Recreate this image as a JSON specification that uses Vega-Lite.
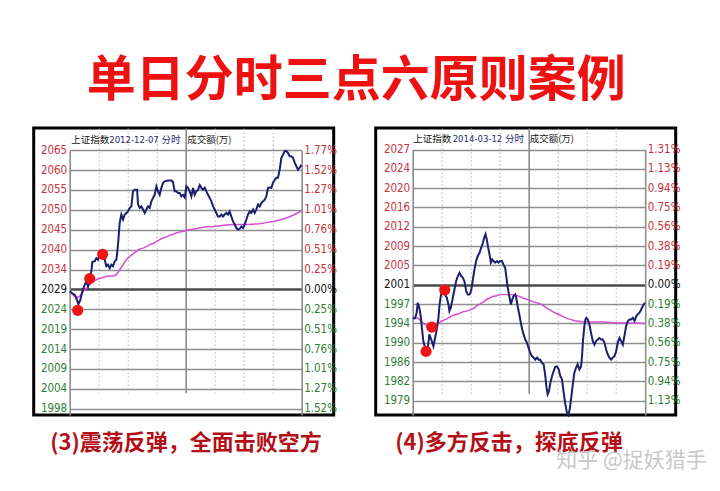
{
  "$schema": "https://vega.github.io/schema/vega-lite/v6.json",
  "background": "white",
  "padding": {"left": 31.7, "top": 56, "right": 0, "bottom": 0},
  "title": {"text": "单日分时三点六原则案例", "orient": "top", "anchor": "middle", "offset": -18, "dx": -14, "baseline": "alphabetic", "font": "Noto Sans CJK SC", "fontSize": 49, "fontWeight": "bold", "color": "#ee1111"},
  "datasets": {
    "p1price": [
      {"t":0,"p":2028.8},{"t":2.8,"p":2028.3},{"t":5.2,"p":2027.9},{"t":6.9,"p":2026.9},{"t":9.0,"p":2025.5},{"t":11.0,"p":2026.6},{"t":13.1,"p":2028.8},{"t":15.5,"p":2030.5},{"t":17.2,"p":2031.4},{"t":19.0,"p":2030.1},{"t":20.7,"p":2032.2},{"t":22.4,"p":2034.0},{"t":23.4,"p":2036.4},{"t":25.9,"p":2036.6},{"t":27.6,"p":2037.4},{"t":29.3,"p":2037.0},{"t":31.0,"p":2038.3},{"t":33.8,"p":2037.9},{"t":36.2,"p":2037.0},{"t":37.9,"p":2035.3},{"t":39.7,"p":2035.7},{"t":41.4,"p":2034.8},{"t":43.1,"p":2035.7},{"t":44.8,"p":2035.3},{"t":46.6,"p":2036.6},{"t":48.3,"p":2037.0},{"t":50.0,"p":2040.9},{"t":51.7,"p":2046.5},{"t":53.4,"p":2048.7},{"t":55.2,"p":2047.4},{"t":56.9,"p":2048.7},{"t":58.6,"p":2049.1},{"t":60.3,"p":2049.5},{"t":62.1,"p":2050.4},{"t":63.8,"p":2050.8},{"t":65.5,"p":2054.7},{"t":67.2,"p":2055.1},{"t":69.7,"p":2055.1},{"t":70.7,"p":2051.3},{"t":72.4,"p":2050.4},{"t":74.1,"p":2050.8},{"t":75.9,"p":2050.0},{"t":77.6,"p":2049.1},{"t":79.3,"p":2050.0},{"t":81.0,"p":2050.8},{"t":82.8,"p":2050.4},{"t":84.5,"p":2052.1},{"t":86.2,"p":2053.0},{"t":87.9,"p":2053.8},{"t":89.7,"p":2056.0},{"t":91.4,"p":2054.7},{"t":93.1,"p":2053.8},{"t":94.8,"p":2055.6},{"t":96.6,"p":2056.9},{"t":98.3,"p":2057.3},{"t":101.7,"p":2057.5},{"t":105.2,"p":2057.5},{"t":106.9,"p":2057.1},{"t":108.6,"p":2054.7},{"t":110.3,"p":2054.7},{"t":112.1,"p":2054.3},{"t":113.8,"p":2054.3},{"t":115.5,"p":2053.4},{"t":117.2,"p":2053.8},{"t":119.0,"p":2053.1},{"t":120.7,"p":2056.0},{"t":122.4,"p":2055.6},{"t":124.1,"p":2054.7},{"t":125.9,"p":2053.4},{"t":127.6,"p":2055.6},{"t":129.3,"p":2053.8},{"t":131.0,"p":2054.7},{"t":132.8,"p":2055.1},{"t":134.5,"p":2056.3},{"t":136.2,"p":2055.6},{"t":137.9,"p":2055.1},{"t":139.7,"p":2055.6},{"t":141.4,"p":2054.7},{"t":143.1,"p":2053.8},{"t":144.8,"p":2053.0},{"t":146.6,"p":2052.1},{"t":148.3,"p":2050.8},{"t":150.0,"p":2050.0},{"t":151.7,"p":2049.1},{"t":153.4,"p":2048.2},{"t":155.2,"p":2048.2},{"t":156.9,"p":2048.7},{"t":158.6,"p":2048.2},{"t":160.3,"p":2048.7},{"t":162.1,"p":2049.1},{"t":163.8,"p":2048.7},{"t":165.5,"p":2049.5},{"t":167.2,"p":2048.2},{"t":169.0,"p":2046.9},{"t":170.7,"p":2046.1},{"t":172.4,"p":2045.2},{"t":174.1,"p":2044.8},{"t":175.9,"p":2045.0},{"t":177.6,"p":2045.6},{"t":179.3,"p":2045.2},{"t":181.0,"p":2046.1},{"t":182.8,"p":2047.4},{"t":184.5,"p":2048.7},{"t":186.2,"p":2049.5},{"t":187.9,"p":2049.1},{"t":189.7,"p":2050.0},{"t":191.4,"p":2049.1},{"t":193.1,"p":2050.0},{"t":194.8,"p":2051.3},{"t":196.6,"p":2050.8},{"t":198.3,"p":2051.7},{"t":200.0,"p":2052.1},{"t":201.7,"p":2052.5},{"t":203.4,"p":2053.4},{"t":205.2,"p":2055.6},{"t":206.9,"p":2055.7},{"t":208.6,"p":2055.6},{"t":210.3,"p":2056.9},{"t":212.1,"p":2057.7},{"t":213.8,"p":2058.2},{"t":215.5,"p":2058.2},{"t":217.2,"p":2060.3},{"t":219.0,"p":2063.4},{"t":220.7,"p":2064.2},{"t":222.4,"p":2065.1},{"t":224.1,"p":2065.2},{"t":225.9,"p":2064.6},{"t":227.6,"p":2063.8},{"t":229.3,"p":2063.8},{"t":231.0,"p":2063.4},{"t":232.8,"p":2062.1},{"t":234.5,"p":2061.2},{"t":236.2,"p":2060.3},{"t":237.9,"p":2060.8},{"t":239.7,"p":2061.6}
    ],
    "p1avg": [
      {"t":0,"p":2028.8},{"t":3.4,"p":2027.9},{"t":7.6,"p":2027.2},{"t":10.3,"p":2027.5},{"t":13.8,"p":2028.8},{"t":17.2,"p":2029.6},{"t":20.7,"p":2030.5},{"t":24.1,"p":2031.4},{"t":27.6,"p":2031.8},{"t":31.0,"p":2032.2},{"t":34.5,"p":2032.4},{"t":37.9,"p":2032.7},{"t":41.4,"p":2032.8},{"t":44.8,"p":2032.8},{"t":48.3,"p":2033.1},{"t":51.7,"p":2034.4},{"t":55.2,"p":2035.7},{"t":58.6,"p":2037.0},{"t":62.1,"p":2037.9},{"t":65.5,"p":2038.5},{"t":69.0,"p":2039.2},{"t":72.4,"p":2039.8},{"t":75.9,"p":2040.0},{"t":79.3,"p":2040.4},{"t":82.8,"p":2040.9},{"t":86.2,"p":2041.2},{"t":89.7,"p":2041.7},{"t":93.1,"p":2042.2},{"t":96.6,"p":2042.6},{"t":100.0,"p":2042.9},{"t":103.4,"p":2043.3},{"t":106.9,"p":2043.6},{"t":110.3,"p":2043.9},{"t":113.8,"p":2044.2},{"t":117.2,"p":2044.3},{"t":120.7,"p":2044.6},{"t":127.6,"p":2044.9},{"t":134.5,"p":2045.2},{"t":141.4,"p":2045.5},{"t":148.3,"p":2045.6},{"t":155.2,"p":2045.8},{"t":162.1,"p":2046.0},{"t":169.0,"p":2046.1},{"t":175.9,"p":2046.1},{"t":182.8,"p":2046.1},{"t":189.7,"p":2046.2},{"t":196.6,"p":2046.3},{"t":203.4,"p":2046.6},{"t":210.3,"p":2046.9},{"t":217.2,"p":2047.3},{"t":224.1,"p":2047.8},{"t":231.0,"p":2048.5},{"t":239.7,"p":2049.6}
    ],
    "p1dots": [{"t":8.3,"p":2023.9},{"t":20.7,"p":2032.1},{"t":34.1,"p":2038.4}],
    "p2price": [
      {"t":0,"p":1994.7},{"t":2.4,"p":1994.7},{"t":4.1,"p":1995.8},{"t":5.2,"p":1997.7},{"t":6.9,"p":1996.7},{"t":8.3,"p":1995.1},{"t":9.7,"p":1992.5},{"t":11.0,"p":1990.3},{"t":12.8,"p":1989.0},{"t":13.8,"p":1988.2},{"t":15.2,"p":1988.3},{"t":16.2,"p":1990.0},{"t":17.2,"p":1991.6},{"t":18.6,"p":1990.9},{"t":19.7,"p":1990.3},{"t":21.4,"p":1989.3},{"t":23.1,"p":1990.9},{"t":24.8,"p":1992.5},{"t":26.6,"p":1994.8},{"t":27.6,"p":1997.1},{"t":29.0,"p":1999.0},{"t":30.3,"p":2000.0},{"t":31.7,"p":2000.4},{"t":33.4,"p":1999.3},{"t":35.2,"p":1998.7},{"t":36.9,"p":1997.4},{"t":37.9,"p":1996.1},{"t":39.3,"p":1996.7},{"t":41.4,"p":1998.7},{"t":43.1,"p":2000.3},{"t":44.8,"p":2001.9},{"t":46.6,"p":2002.9},{"t":48.3,"p":2003.5},{"t":50.0,"p":2002.9},{"t":51.7,"p":2002.6},{"t":53.4,"p":2001.9},{"t":55.2,"p":2000.0},{"t":56.9,"p":1999.3},{"t":58.6,"p":1999.3},{"t":60.3,"p":2000.0},{"t":62.1,"p":2002.2},{"t":63.8,"p":2004.2},{"t":65.5,"p":2005.8},{"t":67.2,"p":2006.8},{"t":69.0,"p":2007.4},{"t":70.7,"p":2008.4},{"t":72.4,"p":2009.3},{"t":73.8,"p":2010.3},{"t":75.2,"p":2011.0},{"t":76.5,"p":2010.0},{"t":77.9,"p":2008.4},{"t":79.3,"p":2007.1},{"t":80.7,"p":2005.5},{"t":82.1,"p":2006.1},{"t":83.4,"p":2005.8},{"t":85.2,"p":2005.5},{"t":86.9,"p":2005.8},{"t":88.6,"p":2005.5},{"t":90.3,"p":2005.8},{"t":92.1,"p":2005.8},{"t":93.8,"p":2005.1},{"t":95.5,"p":2004.5},{"t":96.6,"p":2002.9},{"t":97.9,"p":2000.9},{"t":99.7,"p":1999.0},{"t":101.4,"p":1997.4},{"t":102.8,"p":1998.4},{"t":104.1,"p":1999.0},{"t":105.9,"p":1999.3},{"t":106.9,"p":1998.7},{"t":108.3,"p":1997.1},{"t":110.0,"p":1995.5},{"t":111.7,"p":1993.8},{"t":113.1,"p":1992.5},{"t":114.5,"p":1991.6},{"t":116.2,"p":1990.6},{"t":117.9,"p":1990.0},{"t":119.6,"p":1989.0},{"t":121.4,"p":1988.0},{"t":123.1,"p":1987.4},{"t":124.8,"p":1987.1},{"t":126.5,"p":1986.7},{"t":128.3,"p":1987.1},{"t":130.0,"p":1986.7},{"t":131.7,"p":1986.7},{"t":133.4,"p":1986.1},{"t":135.2,"p":1985.8},{"t":136.9,"p":1983.5},{"t":137.9,"p":1981.6},{"t":139.3,"p":1980.0},{"t":140.7,"p":1980.6},{"t":142.1,"p":1982.2},{"t":143.8,"p":1983.5},{"t":145.5,"p":1984.5},{"t":147.2,"p":1985.3},{"t":149.0,"p":1985.4},{"t":150.7,"p":1984.8},{"t":152.4,"p":1983.5},{"t":154.1,"p":1982.9},{"t":155.9,"p":1980.3},{"t":157.6,"p":1978.0},{"t":159.3,"p":1976.4},{"t":160.7,"p":1976.0},{"t":162.1,"p":1977.1},{"t":163.8,"p":1979.6},{"t":165.5,"p":1982.2},{"t":166.9,"p":1984.2},{"t":168.6,"p":1985.1},{"t":170.3,"p":1985.8},{"t":172.1,"p":1984.8},{"t":173.8,"p":1985.4},{"t":174.8,"p":1987.4},{"t":175.9,"p":1990.6},{"t":177.2,"p":1993.2},{"t":178.3,"p":1994.5},{"t":179.3,"p":1994.8},{"t":180.7,"p":1994.5},{"t":182.4,"p":1993.5},{"t":184.1,"p":1991.9},{"t":185.9,"p":1990.3},{"t":187.6,"p":1989.6},{"t":189.3,"p":1990.3},{"t":191.0,"p":1990.6},{"t":192.7,"p":1990.9},{"t":194.5,"p":1990.6},{"t":196.2,"p":1990.6},{"t":197.9,"p":1990.0},{"t":199.6,"p":1988.7},{"t":201.4,"p":1987.7},{"t":203.1,"p":1987.1},{"t":204.8,"p":1986.7},{"t":206.5,"p":1987.1},{"t":208.3,"p":1987.4},{"t":210.0,"p":1988.3},{"t":211.7,"p":1990.0},{"t":213.4,"p":1990.9},{"t":215.2,"p":1990.3},{"t":216.9,"p":1989.6},{"t":218.6,"p":1991.3},{"t":220.3,"p":1993.2},{"t":222.1,"p":1994.2},{"t":223.8,"p":1994.5},{"t":225.5,"p":1994.5},{"t":227.2,"p":1994.8},{"t":229.0,"p":1994.2},{"t":230.7,"p":1995.1},{"t":232.4,"p":1995.5},{"t":234.1,"p":1995.8},{"t":235.9,"p":1996.4},{"t":237.6,"p":1997.1},{"t":239.7,"p":1997.7}
    ],
    "p2avg": [
      {"t":0,"p":1994.7},{"t":2.4,"p":1994.7},{"t":4.8,"p":1994.8},{"t":6.9,"p":1994.5},{"t":9.3,"p":1994.0},{"t":12.8,"p":1993.5},{"t":16.2,"p":1993.2},{"t":19.7,"p":1993.2},{"t":23.1,"p":1993.5},{"t":26.6,"p":1993.8},{"t":30.0,"p":1994.2},{"t":35.2,"p":1994.6},{"t":38.6,"p":1995.0},{"t":42.1,"p":1995.3},{"t":47.2,"p":1995.6},{"t":52.4,"p":1996.0},{"t":57.6,"p":1996.2},{"t":62.8,"p":1996.6},{"t":66.2,"p":1997.1},{"t":69.7,"p":1997.5},{"t":73.1,"p":1997.9},{"t":76.5,"p":1998.4},{"t":80.0,"p":1998.7},{"t":83.4,"p":1999.0},{"t":86.9,"p":1999.1},{"t":90.3,"p":1999.3},{"t":95.5,"p":1999.3},{"t":100.7,"p":1999.3},{"t":104.1,"p":1999.3},{"t":107.6,"p":1999.1},{"t":111.0,"p":1998.9},{"t":114.5,"p":1998.6},{"t":117.9,"p":1998.4},{"t":121.4,"p":1998.1},{"t":124.8,"p":1997.9},{"t":128.3,"p":1997.7},{"t":131.7,"p":1997.5},{"t":135.2,"p":1997.1},{"t":138.6,"p":1996.7},{"t":142.1,"p":1996.3},{"t":145.5,"p":1995.9},{"t":149.0,"p":1995.6},{"t":152.4,"p":1995.3},{"t":155.9,"p":1995.0},{"t":159.3,"p":1994.7},{"t":162.8,"p":1994.5},{"t":166.2,"p":1994.3},{"t":169.7,"p":1994.2},{"t":173.1,"p":1994.1},{"t":176.6,"p":1994.0},{"t":183.4,"p":1994.0},{"t":190.3,"p":1994.0},{"t":197.2,"p":1994.0},{"t":204.1,"p":1993.9},{"t":211.0,"p":1993.8},{"t":217.9,"p":1993.8},{"t":224.8,"p":1993.8},{"t":231.7,"p":1993.8},{"t":239.7,"p":1993.7}
    ],
    "p2dots": [{"t":13.8,"p":1988.3},{"t":19.7,"p":1993.0},{"t":33.1,"p":2000.2}]
  },
  "config": {
    "axis": {"labelFont": "Liberation Sans Narrow, DejaVu Sans Condensed, sans-serif", "labelFontSize": 11.5, "labelFlush": false, "labelOverlap": false, "ticks": false, "domainColor": "#8c8c8c", "domainWidth": 1.6, "titleFont": "Noto Sans CJK SC", "titleFontWeight": "normal", "titleFontSize": 9.5, "titleAngle": 0, "titleAlign": "left", "titleBaseline": "middle"}
  },
  "bounds": "flush",
  "spacing": 42,
  "hconcat": [
    {
      "width": 300, "height": 287,
      "view": {"stroke": "#000000", "strokeWidth": 3},
      "layer": [
        {
          "data": {"name": "p1avg"},
          "mark": {"type": "line", "color": "#d54ed5", "strokeWidth": 1.5},
          "encoding": {
            "x": {"field": "t", "type": "quantitative", "scale": {"domain": [0, 240], "range": [36, 268], "nice": false, "zero": false},
              "axis": {"orient": "bottom", "values": [30, 60, 90, 120, 150, 180, 210], "labels": false, "ticks": false, "domain": false, "grid": true,
                "gridColor": {"condition": {"test": "datum.value === 120", "value": "#8c8c8c"}, "value": "#b0b0b0"},
                "gridDash": {"condition": {"test": "datum.value === 120", "value": []}, "value": [1.5, 2.5]},
                "gridWidth": {"condition": {"test": "datum.value === 120", "value": 1.6}, "value": 1},
                "title": "(3)震荡反弹，全面击败空方", "titleX": 16, "titleY": 28, "titleFontSize": 22, "titleFontWeight": "bold", "titleColor": "#b40f16"}},
            "y": {"field": "p", "type": "quantitative", "scale": {"domain": [1996.79, 2065.35], "range": [287, 22.2], "nice": false, "zero": false},
              "axis": {"orient": "left", "offset": -36, "values": [1998.4, 2003.55, 2008.7, 2013.85, 2019, 2024.15, 2029.3, 2034.45, 2039.6, 2044.75, 2049.9, 2055.05, 2060.2, 2065.35],
                "labelExpr": "format(round(datum.value),'d')", "labelPadding": 3,
                "labelColor": {"condition": [{"test": "datum.value > 2030", "value": "#c8323c"}, {"test": "datum.value < 2028", "value": "#2e7d32"}], "value": "#111111"},
                "grid": true,
                "gridColor": {"condition": {"test": "datum.value === 2029.3", "value": "#4a4a4a"}, "value": "#8e8e8e"},
                "gridWidth": {"condition": {"test": "datum.value === 2029.3", "value": 2.6}, "value": 1.7},
                "title": "上证指数", "titleX": 1, "titleY": 11, "titleColor": "#111111"}}
          }
        },
        {
          "data": {"name": "p1price"},
          "mark": {"type": "line", "color": "#1b1f6e", "strokeWidth": 2},
          "encoding": {
            "x": {"field": "t", "type": "quantitative", "scale": {"domain": [0, 240], "range": [36, 268], "nice": false, "zero": false}, "axis": null},
            "y": {"field": "p", "type": "quantitative", "scale": {"domain": [1996.79, 2065.35], "range": [287, 22.2], "nice": false, "zero": false}, "axis": null}
          }
        },
        {
          "data": {"name": "p1dots"},
          "mark": {"type": "circle", "color": "#f01414", "opacity": 1, "size": 125},
          "encoding": {
            "x": {"field": "t", "type": "quantitative", "scale": {"domain": [0, 240], "range": [36, 268], "nice": false, "zero": false},
              "axis": {"orient": "top", "labels": false, "ticks": false, "domain": false, "grid": false,
                "title": "2012-12-07 分时", "titleX": 75, "titleY": 11, "titleFont": "DejaVu Sans Condensed, Noto Sans CJK SC", "titleFontSize": 9.5, "titleColor": "#1d2b6b"}},
            "y": {"field": "p", "type": "quantitative", "scale": {"domain": [1996.79, 2065.35], "range": [287, 22.2], "nice": false, "zero": false},
              "axis": {"orient": "right", "offset": -32, "values": [1998.4, 2003.55, 2008.7, 2013.85, 2019, 2024.15, 2029.3, 2034.45, 2039.6, 2044.75, 2049.9, 2055.05, 2060.2, 2065.35],
                "labelExpr": "format(abs(round((datum.value-2029.3)/5.15))*0.2533,'.2f')+'%'", "labelPadding": 2,
                "labelColor": {"condition": [{"test": "datum.value > 2030", "value": "#c8323c"}, {"test": "datum.value < 2028", "value": "#2e7d32"}], "value": "#111111"},
                "grid": false,
                "title": "成交额(万)", "titleX": -115, "titleY": 11, "titleColor": "#222222"}}
          }
        }
      ],
      "resolve": {"scale": {"x": "independent", "y": "independent"}, "axis": {"x": "independent", "y": "independent"}}
    },
    {
      "width": 300, "height": 287,
      "view": {"stroke": "#000000", "strokeWidth": 3},
      "title": {"text": "知乎 @捉妖猎手", "orient": "bottom", "anchor": "end", "frame": "group", "offset": 7, "baseline": "middle", "dx": 31, "font": "Noto Sans CJK SC", "fontSize": 21, "fontWeight": "normal", "color": "#c8c8c8"},
      "layer": [
        {
          "data": {"name": "p2avg"},
          "mark": {"type": "line", "color": "#d54ed5", "strokeWidth": 1.5},
          "encoding": {
            "x": {"field": "t", "type": "quantitative", "scale": {"domain": [0, 240], "range": [37, 269.5], "nice": false, "zero": false},
              "axis": {"orient": "bottom", "values": [30, 60, 90, 120, 150, 180, 210], "labels": false, "ticks": false, "domain": false, "grid": true,
                "gridColor": {"condition": {"test": "datum.value === 120", "value": "#8c8c8c"}, "value": "#b0b0b0"},
                "gridDash": {"condition": {"test": "datum.value === 120", "value": []}, "value": [1.5, 2.5]},
                "gridWidth": {"condition": {"test": "datum.value === 120", "value": 1.6}, "value": 1},
                "title": "(4)多方反击，探底反弹", "titleX": 19, "titleY": 28, "titleFontSize": 22, "titleFontWeight": "bold", "titleColor": "#b40f16"}},
            "y": {"field": "p", "type": "quantitative", "scale": {"domain": [1975.98, 2027.415], "range": [287, 21.5], "nice": false, "zero": false},
              "axis": {"orient": "left", "offset": -37, "values": [1978.73, 1982.475, 1986.22, 1989.965, 1993.71, 1997.455, 2001.2, 2004.945, 2008.69, 2012.435, 2016.18, 2019.925, 2023.67, 2027.415],
                "labelExpr": "format(round(datum.value),'d')", "labelPadding": 3,
                "labelColor": {"condition": [{"test": "datum.value > 2002", "value": "#c8323c"}, {"test": "datum.value < 2000", "value": "#2e7d32"}], "value": "#111111"},
                "grid": true,
                "gridColor": {"condition": {"test": "datum.value === 2001.2", "value": "#4a4a4a"}, "value": "#8e8e8e"},
                "gridWidth": {"condition": {"test": "datum.value === 2001.2", "value": 2.6}, "value": 1.7},
                "title": "上证指数", "titleX": 0, "titleY": 10.5, "titleColor": "#111111"}}
          }
        },
        {
          "data": {"name": "p2price"},
          "mark": {"type": "line", "color": "#1b1f6e", "strokeWidth": 2},
          "encoding": {
            "x": {"field": "t", "type": "quantitative", "scale": {"domain": [0, 240], "range": [37, 269.5], "nice": false, "zero": false}, "axis": null},
            "y": {"field": "p", "type": "quantitative", "scale": {"domain": [1975.98, 2027.415], "range": [287, 21.5], "nice": false, "zero": false}, "axis": null}
          }
        },
        {
          "data": {"name": "p2dots"},
          "mark": {"type": "circle", "color": "#f01414", "opacity": 1, "size": 125},
          "encoding": {
            "x": {"field": "t", "type": "quantitative", "scale": {"domain": [0, 240], "range": [37, 269.5], "nice": false, "zero": false},
              "axis": {"orient": "top", "labels": false, "ticks": false, "domain": false, "grid": false,
                "title": "2014-03-12 分时", "titleX": 76.5, "titleY": 10.5, "titleFont": "DejaVu Sans Condensed, Noto Sans CJK SC", "titleFontSize": 9.5, "titleColor": "#1d2b6b"}},
            "y": {"field": "p", "type": "quantitative", "scale": {"domain": [1975.98, 2027.415], "range": [287, 21.5], "nice": false, "zero": false},
              "axis": {"orient": "right", "offset": -30.5, "values": [1978.73, 1982.475, 1986.22, 1989.965, 1993.71, 1997.455, 2001.2, 2004.945, 2008.69, 2012.435, 2016.18, 2019.925, 2023.67, 2027.415],
                "labelExpr": "format(abs(round((datum.value-2001.2)/3.745))*0.1875,'.2f')+'%'", "labelPadding": 2,
                "labelColor": {"condition": [{"test": "datum.value > 2002", "value": "#c8323c"}, {"test": "datum.value < 2000", "value": "#2e7d32"}], "value": "#111111"},
                "grid": false,
                "title": "成交额(万)", "titleX": -116, "titleY": 10.5, "titleColor": "#222222"}}
          }
        }
      ],
      "resolve": {"scale": {"x": "independent", "y": "independent"}, "axis": {"x": "independent", "y": "independent"}}
    }
  ]
}
